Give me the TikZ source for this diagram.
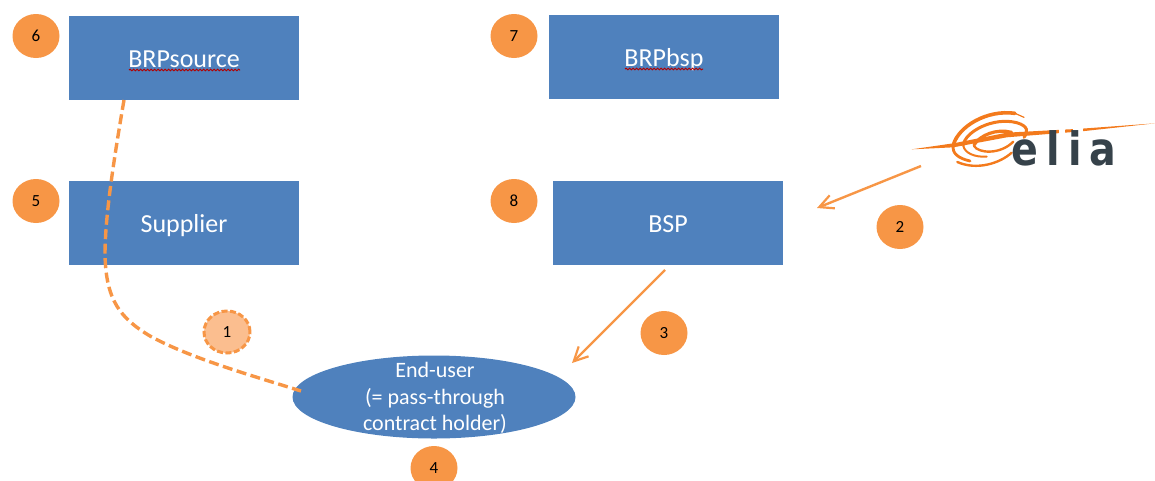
\documentclass[tikz,border=0pt]{standalone}
\usepackage{fontspec}
\setmainfont{Carlito}
\newfontfamily\logofont[FakeStretch=0.86,LetterSpace=18]{DejaVu Sans}
\usetikzlibrary{arrows.meta,decorations.pathmorphing,shapes.geometric}
\definecolor{boxblue}{HTML}{4F81BD}
\definecolor{accent}{HTML}{F79646}
\definecolor{lightaccent}{HTML}{FBBE8F}
\definecolor{logoorange}{HTML}{F37A1C}
\definecolor{logodark}{HTML}{36424A}
\tikzset{
  x=1pt,y=-1pt,
  bluebox/.style={fill=boxblue,draw=none,minimum width=230pt,minimum height=84pt,inner sep=0pt,text=white,text height=18pt,text depth=0pt,font=\fontsize{26}{30}\selectfont},
  flow/.style={draw=accent,line width=2.4pt,-{Straight Barb[length=14pt,width=14pt,line width=2.2pt]}},
  swoosh/.style={draw=logoorange,line cap=round},
  squig/.style={draw=red!70!black,line width=1pt,decorate,decoration={snake,amplitude=.8pt,segment length=3.5pt}},
  numbadge/.style={ellipse,fill=accent,draw=none,minimum width=47pt,minimum height=44pt,inner sep=0pt,text=black,font=\fontsize{17}{20}\selectfont}
}
\begin{document}
\begin{tikzpicture}
\useasboundingbox (0,0) rectangle (1155,480);
\node[bluebox] (brpsource) at (184,58) {BRPsource};
\node[bluebox] (brpbsp) at (664,57) {BRPbsp};
\node[bluebox] (supplier) at (184,223) {Supplier};
\node[bluebox] (bsp) at (668,223) {BSP};
\draw[squig] (129,70) -- (240,70);
\draw[squig] (625,69) -- (703,69);
\node[ellipse,fill=boxblue,minimum width=283pt,minimum height=83pt,inner sep=0pt] (enduser) at (434,397) {};
\node[inner sep=0pt,text=white,align=center,font=\fontsize{22}{26.5}\selectfont] (endusertext) at (435,398) {End-user\\(= pass-through\\contract holder)};
\node[numbadge] (n6) at (36,36) {6};
\node[numbadge] (n7) at (514,36) {7};
\node[numbadge] (n5) at (36,201) {5};
\node[numbadge] (n8) at (514,201) {8};
\node[numbadge] (n2) at (900,227) {2};
\node[numbadge] (n3) at (664,333) {3};
\node[numbadge] (n4) at (434,468) {4};
\node[ellipse,fill=lightaccent,draw=accent,line width=3pt,dash pattern=on 6pt off 2.5pt,minimum width=46pt,minimum height=42pt,inner sep=0pt,text=black,font=\fontsize{17}{20}\selectfont] (n1) at (227,332) {1};
% connectors
\coordinate (srcout) at (124,100);
\coordinate (euin) at (301,391);
\coordinate (eliaout) at (921,166);
\coordinate (bspin) at (817,208);
\coordinate (bspout) at (665,270);
\coordinate (euin2) at (572,363);
\draw[draw=accent,line width=3.4pt,dash pattern=on 10pt off 4.5pt] (srcout) .. controls (112,170) and (105,220) .. (105,255) .. controls (106,300) and (120,318) .. (150,336) .. controls (190,358) and (250,375) .. (euin);
\draw[flow] (eliaout) -- (bspin);
\draw[flow] (bspout) -- (euin2);
% logo, in 3x crop coordinates
\begin{scope}[xshift=900pt,yshift=-100pt,x=.3333pt,y=-.3333pt]
\fill[logoorange] (35,148) -- (160,130) -- (320,98) -- (545,86) -- (765,70) -- (545,94) -- (320,112) -- (160,142) -- cycle;
\draw[swoosh,line width=3.6pt] (160,135) .. controls (175,80) and (260,28) .. (345,40);
\draw[swoosh,line width=1.2pt] (345,40) -- (372,52);
\draw[swoosh,line width=2.8pt] (160,135) .. controls (155,160) and (175,175) .. (210,183);
\draw[swoosh,line width=2.4pt] (172,186) .. controls (230,212) and (300,190) .. (335,158);
\draw[swoosh,line width=3pt] (190,135) .. controls (195,95) and (280,50) .. (350,68) .. controls (385,78) and (385,95) .. (372,112);
\draw[swoosh,line width=2pt] (190,138) .. controls (195,160) and (225,172) .. (260,170);
\draw[swoosh,line width=3.2pt] (222,135) .. controls (240,105) and (290,85) .. (335,97);
\draw[swoosh,line width=2.4pt] (222,138) .. controls (235,160) and (300,165) .. (340,125);
\fill[white] (478,84) rectangle (495,104);
\fill[white] (518,82) rectangle (548,104);
\end{scope}
\node[text=logodark,inner sep=0pt,anchor=base west,font=\logofont\bfseries\fontsize{46}{50}\selectfont] (elia) at (1011,165.5) {elia};
\end{tikzpicture}
\end{document}
